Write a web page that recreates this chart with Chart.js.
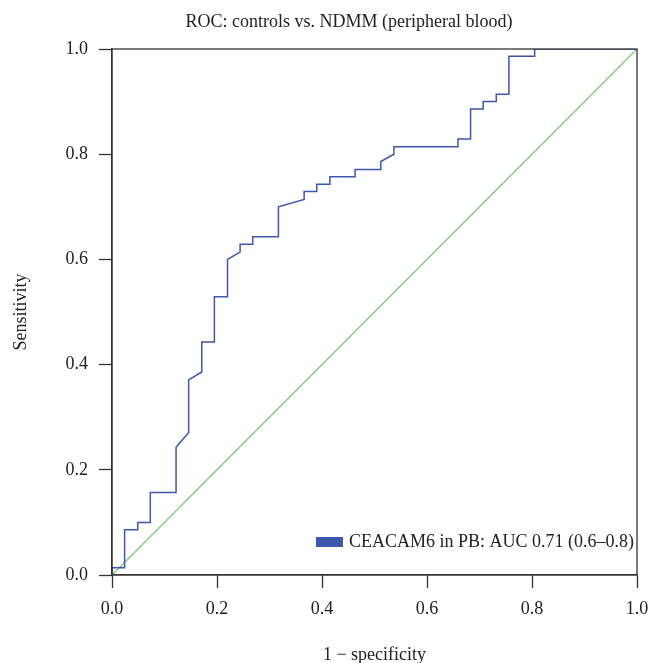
<!DOCTYPE html>
<html>
<head>
<meta charset="utf-8">
<script src="https://cdn.jsdelivr.net/npm/chart.js@4"></script>
<style>
html,body{margin:0;padding:0;background:#fff;}
#wrap{width:650px;height:663px;}
</style>
</head>
<body>
<div id="wrap"><canvas id="c" width="650" height="663"></canvas></div>
<script>
const chartTitle = "ROC: controls vs. NDMM (peripheral blood)";
const xTitle = "1 \u2212 specificity";
const yTitle = "Sensitivity";
const seriesLabel = "CEACAM6 in PB: AUC 0.71 (0.6\u20130.8)";
const tickValues = [0, 0.2, 0.4, 0.6, 0.8, 1.0];

// ROC curve: 1 - specificity (x) and sensitivity (y)
const fpr = [0,0,0.024,0.024,0.049,0.049,0.073,0.073,0.122,0.122,0.146,0.146,0.171,0.171,0.195,0.195,0.220,0.220,0.244,0.244,0.268,0.268,0.317,0.317,0.366,0.366,0.390,0.390,0.415,0.415,0.463,0.463,0.512,0.512,0.537,0.537,0.659,0.659,0.683,0.683,0.707,0.707,0.732,0.732,0.756,0.756,0.805,0.805,1];
const tpr = [0,0.014,0.014,0.086,0.086,0.100,0.100,0.157,0.157,0.243,0.271,0.371,0.386,0.443,0.443,0.529,0.529,0.600,0.614,0.629,0.629,0.643,0.643,0.700,0.714,0.729,0.729,0.743,0.743,0.757,0.757,0.771,0.771,0.786,0.800,0.814,0.814,0.829,0.829,0.886,0.886,0.900,0.900,0.914,0.914,0.986,0.986,1.0,1.0];
// Reference diagonal
const diagX = [0, 1];
const diagY = [0, 1];

const FONT = "'Liberation Serif', 'DejaVu Serif', serif";
const FS = 18;
const curveColor = '#3c57ab';
const diagColor = '#66c466';

const frame = {
  id: 'frame',
  afterDatasetsDraw(chart) {
    const {ctx, chartArea: a} = chart;
    ctx.save();
    ctx.strokeStyle = '#333';
    ctx.lineWidth = 1.3;
    ctx.strokeRect(a.left, a.top, a.right - a.left, a.bottom - a.top);
    ctx.restore();
  }
};

const titleAndLegend = {
  id: 'titleAndLegend',
  afterDraw(chart) {
    const {ctx, chartArea: a} = chart;
    ctx.save();
    ctx.font = FS + "px " + FONT;
    ctx.textBaseline = 'middle';
    // title
    ctx.textAlign = 'center';
    ctx.fillStyle = '#222';
    ctx.fillText(chartTitle, 349, a.top - 27);
    // legend inside plot
    ctx.textAlign = 'right';
    const ty = a.bottom - 33;
    const tx = a.right - 3;
    const w = ctx.measureText(seriesLabel).width;
    ctx.fillText(seriesLabel, tx, ty);
    ctx.fillStyle = curveColor;
    ctx.fillRect(tx - w - 33, ty - 5, 27, 10);
    ctx.restore();
  }
};

new Chart(document.getElementById('c'), {
  type: 'scatter',
  data: {
    datasets: [
      {
        label: seriesLabel,
        data: fpr.map((x, i) => ({x: x, y: tpr[i]})),
        showLine: true,
        borderColor: curveColor,
        borderWidth: 1.5,
        pointRadius: 0,
        fill: false,
        tension: 0
      },
      {
        label: 'diagonal',
        data: diagX.map((x, i) => ({x: x, y: diagY[i]})),
        showLine: true,
        borderColor: diagColor,
        borderWidth: 1.2,
        pointRadius: 0,
        fill: false
      }
    ]
  },
  options: {
    responsive: false,
    animation: false,
    layout: {padding: {left: 0, right: 13, top: 49, bottom: 0}},
    plugins: {
      legend: {display: false},
      tooltip: {enabled: false},
      title: {display: false}
    },
    scales: {
      x: {
        type: 'linear',
        min: 0, max: 1,
        afterBuildTicks(s) { s.ticks = tickValues.map(v => ({value: v})); },
        afterFit(s) { s.height = 88; s.paddingRight = 0; s.paddingLeft = 0; },
        grid: {drawOnChartArea: false, drawTicks: true, tickLength: 13, tickColor: '#333', tickWidth: 1.3},
        border: {display: true, color: '#333', width: 1.3},
        ticks: {
          color: '#222', padding: 10, maxRotation: 0,
          font: {family: FONT, size: FS},
          callback: v => Number(v).toFixed(1)
        },
        title: {display: true, text: xTitle, color: '#222', font: {family: FONT, size: FS}, padding: {top: 0, bottom: -3}}
      },
      y: {
        type: 'linear',
        min: 0, max: 1,
        afterBuildTicks(s) { s.ticks = tickValues.map(v => ({value: v})); },
        afterFit(s) { s.width = 112; s.paddingTop = 0; s.paddingBottom = 0; },
        grid: {drawOnChartArea: false, drawTicks: true, tickLength: 13, tickColor: '#333', tickWidth: 1.3},
        border: {display: true, color: '#333', width: 1.3},
        ticks: {
          color: '#222', padding: 11,
          font: {family: FONT, size: FS},
          callback: v => Number(v).toFixed(1)
        },
        title: {display: true, text: yTitle, color: '#222', font: {family: FONT, size: FS}, padding: {top: 10, bottom: 0}}
      }
    }
  },
  plugins: [frame, titleAndLegend]
});
</script>
</body>
</html>
